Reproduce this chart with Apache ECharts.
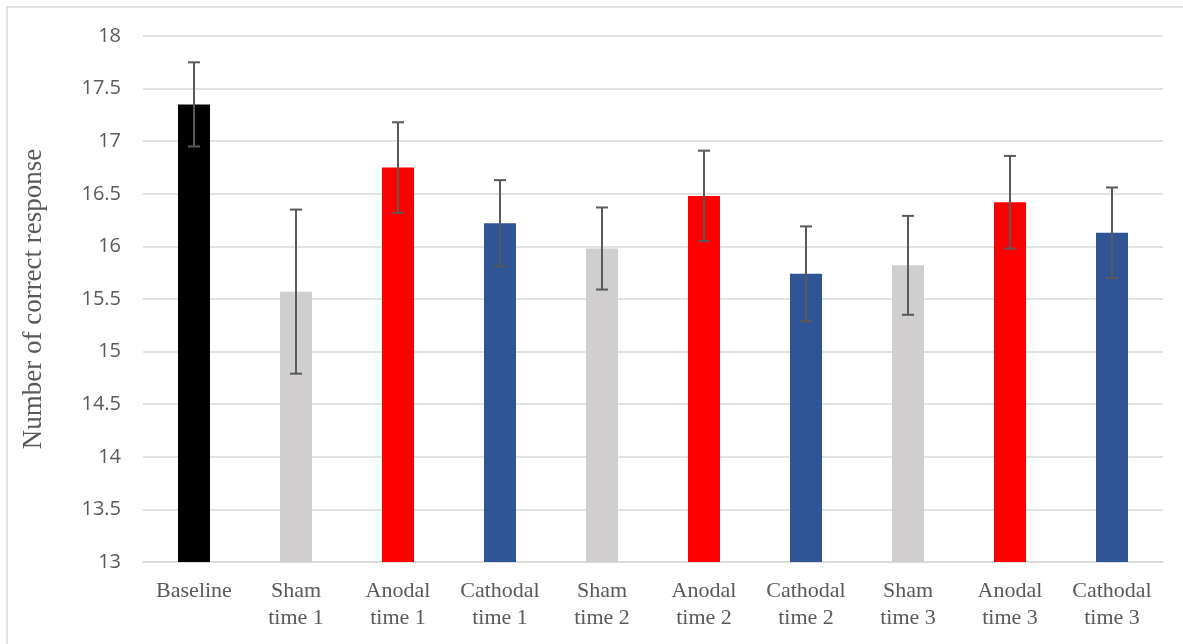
<!DOCTYPE html>
<html>
<head>
<meta charset="utf-8">
<script src="https://cdn.jsdelivr.net/npm/echarts@6/dist/echarts.min.js"></script>
<style>html,body{margin:0;padding:0;background:#fff;}#c{width:1183px;height:644px;}</style>
</head>
<body>
<div id="c"></div>
<script>
const categories = ['Baseline', 'Sham\ntime 1', 'Anodal\ntime 1', 'Cathodal\ntime 1', 'Sham\ntime 2', 'Anodal\ntime 2', 'Cathodal\ntime 2', 'Sham\ntime 3', 'Anodal\ntime 3', 'Cathodal\ntime 3'];
const means = [17.35, 15.57, 16.75, 16.22, 15.98, 16.48, 15.74, 15.82, 16.42, 16.13];
const errors = [0.40, 0.78, 0.43, 0.41, 0.39, 0.43, 0.45, 0.47, 0.44, 0.43];
const barColors = ['#000000', '#D0CECE', '#FF0000', '#2F5597', '#D0CECE', '#FF0000', '#2F5597', '#D0CECE', '#FF0000', '#2F5597'];

const chart = echarts.init(document.getElementById('c'), null, {renderer: 'canvas'});
chart.setOption({
  backgroundColor: '#fff',
  animation: false,
  graphic: [{
    type: 'rect', silent: true, z: -10,
    shape: {x: 7, y: 7, width: 1250, height: 700},
    style: {fill: 'none', stroke: '#D9D9D9', lineWidth: 1.5}
  }],
  grid: {left: 143, right: 20, top: 36, bottom: 82},
  xAxis: {
    type: 'category',
    data: categories,
    axisLine: {lineStyle: {color: '#D9D9D9', width: 1.5}},
    axisTick: {show: false},
    axisLabel: {color: '#595959', fontFamily: 'Liberation Serif', fontSize: 22, lineHeight: 27, margin: 16, interval: 0}
  },
  yAxis: {
    type: 'value', min: 13, max: 18, interval: 0.5,
    name: 'Number of correct response',
    nameLocation: 'middle', nameGap: 96,
    nameTextStyle: {color: '#595959', fontFamily: 'Liberation Serif', fontSize: 27},
    axisLine: {show: false}, axisTick: {show: false},
    axisLabel: {color: '#595959', fontFamily: 'Open Sans, Liberation Sans, sans-serif', fontSize: 20, margin: 22},
    splitLine: {lineStyle: {color: '#D9D9D9', width: 1.5}}
  },
  series: [{
    type: 'bar',
    barWidth: 32,
    data: means.map((v, i) => ({value: v, itemStyle: {color: barColors[i]}}))
  }, {
    type: 'custom',
    z: 10,
    data: means.map((v, i) => [i, v - errors[i], v + errors[i]]),
    renderItem: function (params, api) {
      const lo = api.coord([api.value(0), api.value(1)]);
      const hi = api.coord([api.value(0), api.value(2)]);
      const hw = 6;
      const st = {stroke: '#595959', lineWidth: 2, fill: 'none'};
      return {
        type: 'group',
        children: [
          {type: 'line', shape: {x1: hi[0], y1: hi[1], x2: lo[0], y2: lo[1]}, style: st},
          {type: 'line', shape: {x1: hi[0] - hw, y1: hi[1], x2: hi[0] + hw, y2: hi[1]}, style: st},
          {type: 'line', shape: {x1: lo[0] - hw, y1: lo[1], x2: lo[0] + hw, y2: lo[1]}, style: st}
        ]
      };
    }
  }]
});
</script>
</body>
</html>
